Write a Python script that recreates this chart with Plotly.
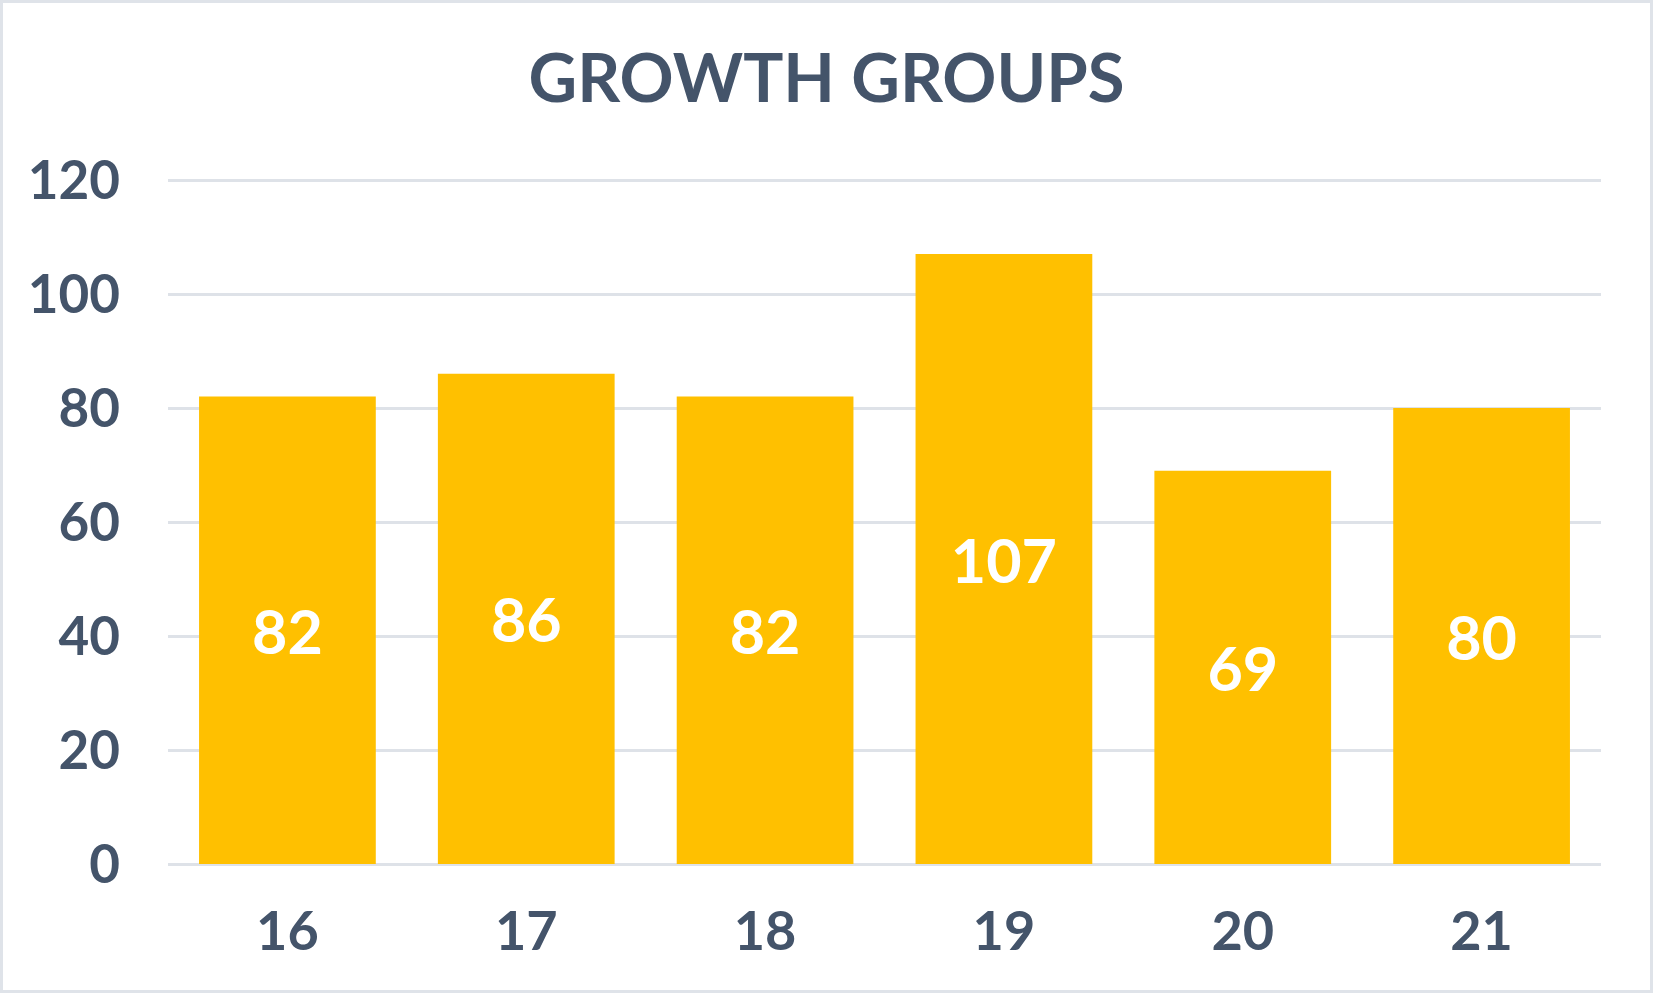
import plotly.graph_objects as go

categories = ["16", "17", "18", "19", "20", "21"]
values = [82, 86, 82, 107, 69, 80]
title_text = "GROWTH GROUPS"
y_max = 120
y_step = 20

W, H = 1653, 993
ML, MR, MT, MB = 168, 52, 174, 129
PW, PH = W - ML - MR, H - MT - MB

FONT = "Lato"
TXT = "#44546A"
BAR = "#FFC000"
GRID = "#DEE2E8"

fig = go.Figure(go.Bar(
    x=categories, y=values,
    marker=dict(color=BAR, line=dict(width=0)),
    text=[str(v) for v in values],
    textposition="inside", insidetextanchor="middle",
    textfont=dict(family=FONT, size=61, color="white", weight="bold"),
    constraintext="none",
))

fig.update_layout(
    width=W, height=H,
    margin=dict(l=ML, r=MR, t=MT, b=MB, autoexpand=False),
    paper_bgcolor="white", plot_bgcolor="white",
    bargap=0.26,
    showlegend=False,
    title=dict(text=title_text, x=0.5, xanchor="center", y=1 - 79 / H, yanchor="middle",
               font=dict(family=FONT, size=67, color=TXT, weight="bold")),
    font=dict(family=FONT, color=TXT),
)
fig.update_xaxes(
    type="category", showgrid=False, showline=False, zeroline=False, ticks="",
    tickfont=dict(family=FONT, size=54, color=TXT, weight="bold"),
    ticklabelstandoff=31,
)
fig.update_yaxes(
    range=[0, y_max * PH / (PH - 6)], tickvals=list(range(0, y_max + 1, y_step)),
    showgrid=True, gridcolor=GRID, gridwidth=3,
    zeroline=True, zerolinecolor=GRID, zerolinewidth=3,
    showline=False, ticks="",
    tickfont=dict(family=FONT, size=53, color=TXT, weight="bold"),
    ticklabelstandoff=47,
)
# outer chart border
fig.add_shape(type="rect", xref="paper", yref="paper",
              x0=(-ML + 1.5) / PW, x1=(PW + MR - 1.5) / PW,
              y0=(-MB + 1.5) / PH, y1=(PH + MT - 1.5) / PH,
              line=dict(color="#DFE3E9", width=3), fillcolor="rgba(0,0,0,0)", layer="above")

fig.write_html("out.html", config={"displayModeBar": False},
               post_script="document.body.style.margin='0px';document.body.style.overflow='hidden';")
